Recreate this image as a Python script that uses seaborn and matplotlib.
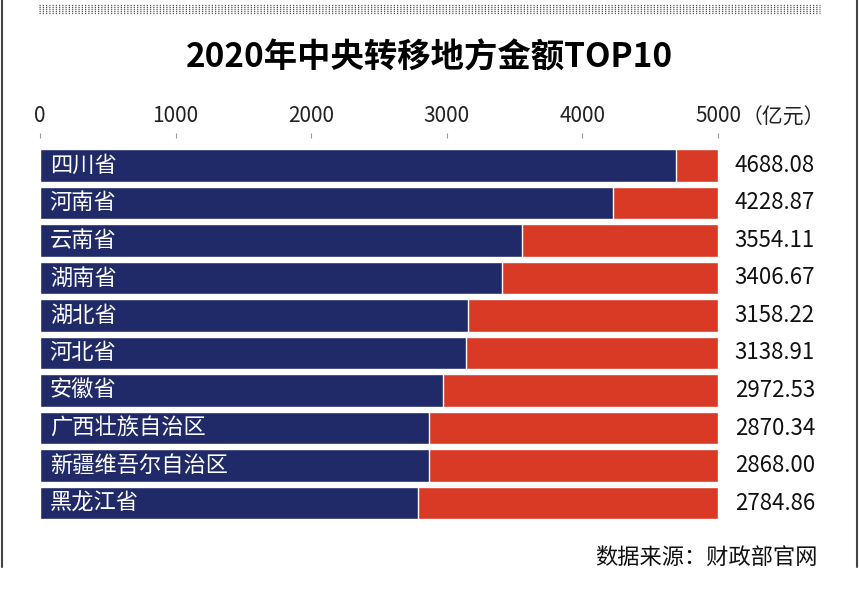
import seaborn as sns
import matplotlib.pyplot as plt
from matplotlib.lines import Line2D

# data
provinces = ['四川省', '河南省', '云南省', '湖南省', '湖北省', '河北省', '安徽省',
             '广西壮族自治区', '新疆维吾尔自治区', '黑龙江省']
amounts = [4688.08, 4228.87, 3554.11, 3406.67, 3158.22, 3138.91, 2972.53,
           2870.34, 2868.00, 2784.86]
axis_max = [5000] * len(provinces)
tick_values = [0, 1000, 2000, 3000, 4000, 5000]

navy = '#212a68'
red = '#d93a26'

sns.set_theme(style='white')
plt.rcParams['font.family'] = ['Noto Sans CJK SC', 'DejaVu Sans']

fig = plt.figure(figsize=(8.59, 5.95), dpi=100)
ax = fig.add_axes([40 / 859, 0.123, 678 / 859, 0.6305])

# background bars (full scale) and value bars
sns.barplot(x=axis_max, y=provinces, color=red, width=0.87, orient='h',
            saturation=1, ax=ax)
sns.barplot(x=amounts, y=provinces, color=navy, width=0.87, orient='h',
            saturation=1, ax=ax)

ax.set_xlim(0, 5000)
ax.set_ylim(9.5, -0.5)
ax.set_xlabel('')
ax.set_ylabel('')
ax.set_yticks([])
ax.xaxis.tick_top()
ax.set_xticks(tick_values)
ax.set_xticklabels([str(v) for v in tick_values])
ax.spines['top'].set_position(('outward', 6.5))
for s in ax.spines.values():
    s.set_visible(False)
ax.tick_params(axis='x', top=True, bottom=False, length=3.6, width=0.8,
               color='#999999', pad=4, labelsize=15, labelcolor='#222222')

# labels inside bars and values on the right
for i, (name, val) in enumerate(zip(provinces, amounts)):
    ax.annotate(name, xy=(0, i), xytext=(7, 0), textcoords='offset points',
                va='center', ha='left', color='white', fontsize=16)
    ax.annotate(f'{val:.2f}', xy=(5000, i), xytext=(12, 0),
                textcoords='offset points', va='center', ha='left',
                color='#111111', fontsize=16)

fig.text(742 / 859, 1 - 118 / 595, '（亿元）', fontsize=15, color='#222222',
         ha='left', va='center')

fig.text(0.5, 1 - 58 / 595, '2020年中央转移地方金额TOP10', fontsize=24,
         fontweight='bold', ha='center', va='center', color='black')
fig.text(818 / 859, 1 - 557 / 595, '数据来源：财政部官网', fontsize=16,
         ha='right', va='center', color='#111111')

# dotted band at top
for k in range(5):
    y = 1 - (5 + 2 * k) / 595
    fig.add_artist(Line2D([39 / 859, 820 / 859], [y, y], color='#555555',
                          lw=0.9, linestyle=(0, (1, 1.6))))

# frame lines left and right
for xf in (1.5 / 859, 857 / 859):
    fig.add_artist(Line2D([xf, xf], [1, 1 - 567 / 595], color='#444444', lw=1.5))

fig.savefig('out.png', dpi=100)
